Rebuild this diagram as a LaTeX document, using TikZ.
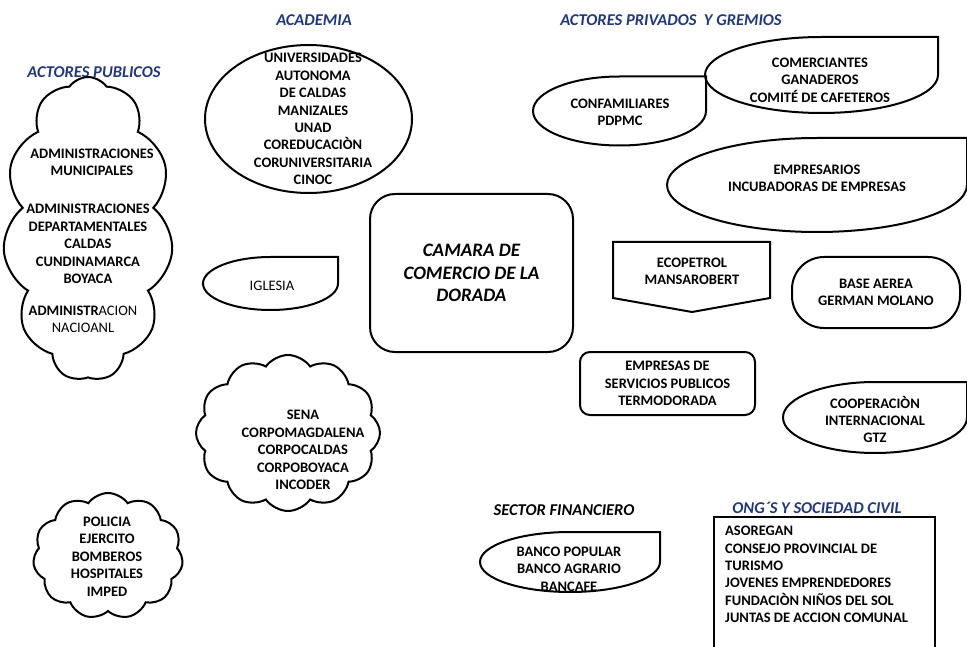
\documentclass[tikz,border=0pt]{standalone}
\usepackage{fontspec}
\setmainfont{Carlito}
\usepackage{tikz}
\usetikzlibrary{shapes.geometric}
\usetikzlibrary{shapes.symbols}

\definecolor{headblue}{RGB}{31,56,125}

% ellipse with a square top right corner
\newcommand{\teardrop}[4]{%
  \draw[line width=2pt] (#1,#2+#4) -- (#1+#3,#2+#4) -- (#1+#3,#2)
    arc[start angle=0, end angle=-270, x radius=#3, y radius=#4] -- cycle;}

\begin{document}
\begin{tikzpicture}[x=1pt, y=1pt,
    lbl/.style={font=\bfseries\fontsize{14.5}{17.4}\selectfont, align=center, inner sep=0pt},
    head/.style={font=\bfseries\itshape\fontsize{16.5}{18}\selectfont, text=headblue, inner sep=0pt},
    outline/.style={draw, line width=2pt}]
            \useasboundingbox (0,0) rectangle (967,-647);

            % Headings
            \node[head] (hpub) at (94,-72) {ACTORES PUBLICOS};
            \node[head] (hacad) at (314,-20) {ACADEMIA};
            \node[head] (hpriv) at (671,-20) {ACTORES PRIVADOS\ \ Y GREMIOS};
            \node[head, text=black] (hfin) at (564,-510) {SECTOR FINANCIERO};
            \node[head] (hong) at (817,-508) {ONG´S Y SOCIEDAD CIVIL};

            % Public actors cloud
            \node[outline, cloud, cloud puffs=11, cloud puff arc=110, aspect=0.5,
                  minimum width=170pt, minimum height=304pt, inner sep=0pt] (pub) at (88,-229) {};
            \node[lbl] (pub1) at (92,-162.5) {ADMINISTRACIONES\\MUNICIPALES};
            \node[lbl] (pub2) at (88,-244) {ADMINISTRACIONES\\DEPARTAMENTALES\\CALDAS\\CUNDINAMARCA\\BOYACA};
            \node[lbl] (pub3) at (83,-319) {ADMINISTR\mdseries ACION\\\mdseries NACIOANL};

            % Academia
            \node[outline, ellipse, minimum width=207pt, minimum height=148pt, inner sep=0pt] (acad) at (308.5,-119) {};
            \node[lbl] (acadt) at (313,-119) {UNIVERSIDADES\\AUTONOMA\\DE CALDAS\\MANIZALES\\UNAD\\COREDUCACIÒN\\CORUNIVERSITARIA\\CINOC};

            % The chamber
            \node[outline, rounded corners=25pt, minimum width=203pt, minimum height=158pt,
                  font=\bfseries\itshape\fontsize{19}{22.5}\selectfont, align=center] (cam) at (471.5,-273)
                  {CAMARA DE\\COMERCIO DE LA\\DORADA};

            % Teardrops
            \teardrop{270.5}{-283.5}{67.5}{26.5}
            \node[font=\fontsize{14.5}{17}\selectfont] (igl) at (272,-286) {IGLESIA};
            \teardrop{619.5}{-111}{86.5}{34.5}
            \node[lbl] (conf) at (620,-112) {CONFAMILIARES\\PDPMC};
            \teardrop{821.5}{-75}{116.5}{38}
            \node[lbl] (com) at (820,-80) {COMERCIANTES\\GANADEROS\\COMITÉ DE CAFETEROS};
            \teardrop{817}{-185}{150}{47}
            \node[lbl] (emp) at (817,-178) {EMPRESARIOS\\INCUBADORAS DE EMPRESAS};
            \teardrop{875}{-417.5}{92}{35.5}
            \node[lbl] (coop) at (875,-419.5) {COOPERACIÒN\\INTERNACIONAL\\GTZ};
            \teardrop{570}{-562}{90}{30}
            \node[lbl] (banco) at (569,-569) {BANCO POPULAR\\BANCO AGRARIO\\BANCAFE};

            % Ecopetrol
            \draw[outline] (613,-242) -- (770,-242) -- (770,-298) -- (692,-312) -- (613,-298) -- cycle;
            \node[lbl] (eco) at (692,-271) {ECOPETROL\\MANSAROBERT};

            % Base aerea and services
            \node[outline, rounded corners=32pt, minimum width=168pt, minimum height=71pt, lbl] (base) at (876,-292.5)
                  {BASE AEREA\\GERMAN MOLANO};
            \node[outline, rounded corners=10pt, minimum width=175pt, minimum height=63pt, lbl] (serv) at (667.5,-383.5)
                  {EMPRESAS DE\\SERVICIOS PUBLICOS\\TERMODORADA};

            % Lower clouds
            \node[outline, cloud, cloud puffs=12, cloud puff arc=110,
                  minimum width=184pt, minimum height=156pt, inner sep=0pt] (sena) at (288,-433) {};
            \node[lbl] (senat) at (303,-450) {SENA\\CORPOMAGDALENA\\CORPOCALDAS\\CORPOBOYACA\\INCODER};
            \node[outline, cloud, cloud puffs=11, cloud puff arc=110,
                  minimum width=150pt, minimum height=126pt, inner sep=0pt] (pol) at (108,-556) {};
            \node[lbl] (polt) at (107,-556.5) {POLICIA\\EJERCITO\\BOMBEROS\\HOSPITALES\\IMPED};

            % ONG box
            \draw[outline] (714,-517) rectangle (935,-700);
            \node[lbl, align=left, anchor=north west] (ong) at (725,-526)
                  {ASOREGAN\\CONSEJO PROVINCIAL DE\\TURISMO\\JOVENES EMPRENDEDORES\\FUNDACIÒN NIÑOS DEL SOL\\JUNTAS DE ACCION COMUNAL};
        \end{tikzpicture}
\end{document}
